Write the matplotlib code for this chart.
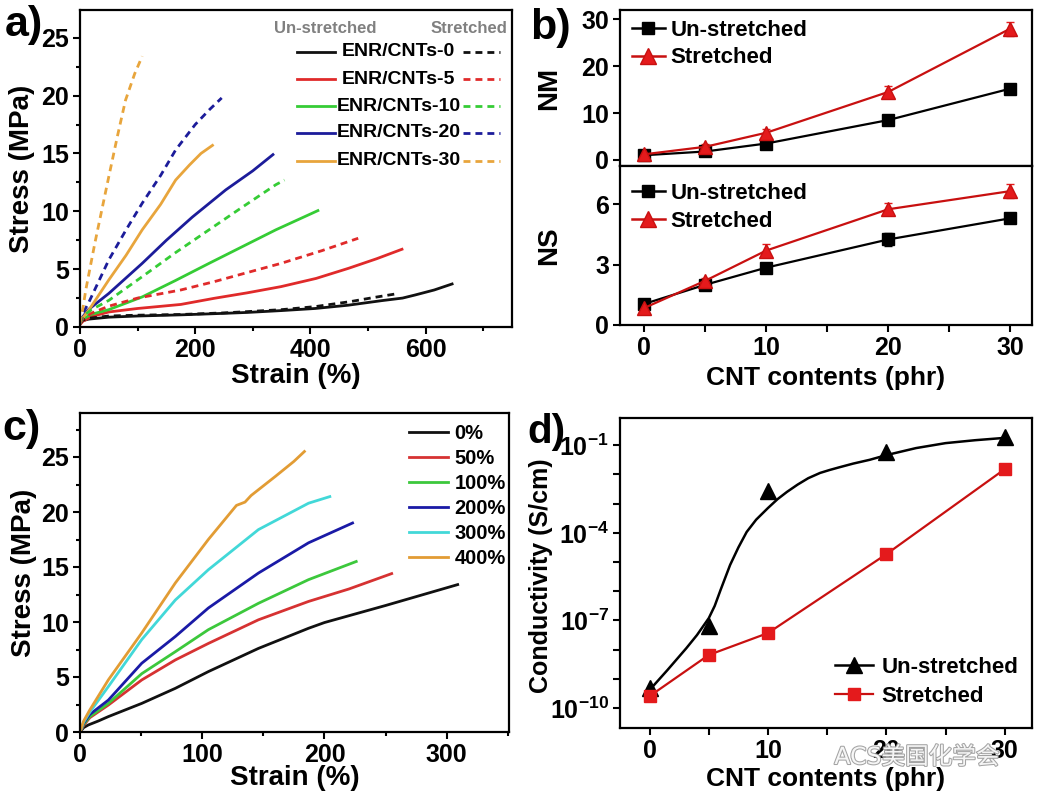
import numpy as np
import matplotlib
matplotlib.use("Agg")
import matplotlib.pyplot as plt
from matplotlib.ticker import MultipleLocator, FixedLocator, FuncFormatter, NullFormatter
from matplotlib.lines import Line2D
import matplotlib.patheffects as pe

# Style
# -----------------------------------------------------------------------------
plt.rcParams["font.family"] = ["Liberation Sans", "DejaVu Sans"]
plt.rcParams["font.weight"] = "bold"
plt.rcParams["axes.labelweight"] = "bold"
plt.rcParams["axes.linewidth"] = 1.6
plt.rcParams["mathtext.fontset"] = "custom"
plt.rcParams["mathtext.rm"] = "Liberation Sans:bold"
plt.rcParams["mathtext.bf"] = "Liberation Sans:bold"

TICK = 18
LABEL = 20

# Data
# -----------------------------------------------------------------------------
# a) stress-strain, un-stretched (solid) and stretched (dashed)
a_names = ["ENR/CNTs-0", "ENR/CNTs-5", "ENR/CNTs-10", "ENR/CNTs-20", "ENR/CNTs-30"]
a_colors = ["#111111", "#e02a2a", "#35cc35", "#1c1c9a", "#e8a53c"]

a0_un_x = [0, 5, 15, 50, 100, 175, 250, 291, 350, 408, 465, 524, 560, 582, 615, 646]
a0_un_y = [0.3, 0.55, 0.68, 0.85, 0.95, 1.05, 1.18, 1.26, 1.42, 1.6, 1.88, 2.28, 2.5, 2.77, 3.2, 3.72]
a0_st_x = [0, 5, 15, 50, 100, 175, 250, 291, 350, 408, 470, 510, 547]
a0_st_y = [0.3, 0.6, 0.75, 0.95, 1.02, 1.08, 1.22, 1.33, 1.5, 1.76, 2.2, 2.55, 2.85]
a5_un_x = [0, 5, 20, 50, 100, 175, 233, 290, 349, 410, 466, 515, 559]
a5_un_y = [0.2, 0.5, 0.9, 1.3, 1.6, 1.95, 2.48, 2.95, 3.49, 4.2, 5.07, 5.9, 6.72]
a5_st_x = [0, 5, 20, 50, 100, 175, 233, 290, 349, 420, 483]
a5_st_y = [0.3, 0.7, 1.2, 1.8, 2.5, 3.2, 3.92, 4.7, 5.5, 6.6, 7.67]
a10_un_x = [0, 5, 20, 50, 108, 165, 224, 280, 340, 413]
a10_un_y = [0.3, 0.7, 1.1, 1.5, 2.6, 4.0, 5.5, 6.9, 8.4, 10.06]
a10_st_x = [0, 5, 20, 50, 108, 165, 224, 280, 340, 355]
a10_st_y = [0.3, 0.9, 1.5, 2.3, 4.35, 6.4, 8.4, 10.3, 12.3, 12.7]
a20_un_x = [0, 5, 14.5, 50, 108, 150, 195, 253, 300, 335]
a20_un_y = [0.3, 0.9, 1.5, 2.9, 5.5, 7.5, 9.5, 11.85, 13.5, 14.9]
a20_st_x = [0, 5, 14.5, 50, 80, 108, 140, 166, 200, 225, 246]
a20_st_y = [0.3, 1.2, 2.05, 5.8, 8.4, 10.7, 13.1, 15.3, 17.5, 18.8, 19.8]
a30_un_x = [0, 5, 14.5, 50, 80, 108, 140, 166, 190, 210, 230]
a30_un_y = [0.3, 0.8, 1.4, 4.07, 6.2, 8.4, 10.6, 12.7, 14.0, 15.0, 15.7]
a30_st_x = [0, 5, 10, 26, 50, 65, 79, 95, 108]
a30_st_y = [0.3, 1.6, 3.2, 7.3, 13.0, 16.5, 19.6, 21.9, 23.4]

a_un = [(a0_un_x, a0_un_y), (a5_un_x, a5_un_y), (a10_un_x, a10_un_y),
        (a20_un_x, a20_un_y), (a30_un_x, a30_un_y)]
a_st = [(a0_st_x, a0_st_y), (a5_st_x, a5_st_y), (a10_st_x, a10_st_y),
        (a20_st_x, a20_st_y), (a30_st_x, a30_st_y)]

# b) NM and NS vs CNT content
cnt = [0, 5, 10, 20, 30]
nm_un = [1.0, 1.8, 3.5, 8.5, 15.2]
nm_un_err = [0.3, 0.3, 0.4, 0.5, 0.5]
nm_st = [1.2, 2.8, 5.8, 14.5, 28.0]
nm_st_err = [0.5, 0.5, 0.8, 1.2, 1.5]
ns_un = [1.05, 2.0, 2.85, 4.25, 5.3]
ns_un_err = [0.1, 0.1, 0.1, 0.3, 0.15]
ns_st = [0.85, 2.2, 3.7, 5.75, 6.65]
ns_st_err = [0.25, 0.15, 0.3, 0.3, 0.35]

# c) stress-strain of ENR/CNTs after pre-stretching
c_names = ["0%", "50%", "100%", "200%", "300%", "400%"]
c_colors = ["#111111", "#d63232", "#3cc83c", "#1a1aa6", "#42d8d8", "#e29c34"]
c0_x = [0, 3, 6.8, 15, 23.2, 50.5, 78, 105, 146, 187, 200, 250, 309]
c0_y = [0, 0.4, 0.64, 1.0, 1.4, 2.6, 3.97, 5.49, 7.6, 9.43, 9.95, 11.5, 13.4]
c50_x = [0, 3, 8, 23.2, 50.5, 78, 105, 146, 187, 220, 255]
c50_y = [0, 0.6, 1.3, 2.45, 4.73, 6.55, 8.05, 10.2, 11.87, 13.0, 14.4]
c100_x = [0, 3, 8, 23.2, 50.5, 78, 105, 146, 187, 226]
c100_y = [0, 0.7, 1.4, 2.6, 5.3, 7.3, 9.3, 11.7, 13.85, 15.5]
c200_x = [0, 3, 8, 23.2, 50.5, 78, 105, 146, 187, 205, 223]
c200_y = [0, 0.8, 1.6, 2.9, 6.25, 8.68, 11.27, 14.45, 17.2, 18.1, 19.0]
c300_x = [0, 3, 8, 23.2, 50.5, 78, 105, 146, 187, 204.4]
c300_y = [0, 0.9, 1.8, 4.13, 8.4, 12.0, 14.75, 18.4, 20.8, 21.4]
c400_x = [0, 3, 8, 23.2, 50.5, 78, 105, 128, 135, 140, 160, 175, 183.6]
c400_y = [0, 1.0, 2.0, 4.74, 9.0, 13.55, 17.5, 20.6, 20.9, 21.5, 23.25, 24.6, 25.5]
c_curves = [(c0_x, c0_y), (c50_x, c50_y), (c100_x, c100_y),
            (c200_x, c200_y), (c300_x, c300_y), (c400_x, c400_y)]

# d) conductivity (log10 S/cm)
cond_un_log = [-9.32, -7.19, -2.57, -1.23, -0.72]
cond_st_log = [-9.59, -8.18, -7.43, -4.73, -1.82]
fit_x = [0, 1.5, 3.1, 4, 5, 5.5, 6, 6.8, 7.5, 8.2, 9, 10, 10.8, 11.6, 12.5, 13.4, 14.4,
         15.2, 16, 17.2, 18.6, 20, 22.5, 25, 27.5, 30]
fit_log = [-9.38, -8.7, -7.95, -7.5, -6.92, -6.5, -5.95, -5.1, -4.5, -3.97, -3.55, -3.15,
           -2.85, -2.6, -2.35, -2.13, -1.95, -1.85, -1.76, -1.63, -1.5, -1.34, -1.1,
           -0.93, -0.83, -0.75]


# Figure
# -----------------------------------------------------------------------------
W, H = 1040, 802
fig = plt.figure(figsize=(W / 100, H / 100), dpi=100)


def px_axes(left, top, right, bottom):
    return fig.add_axes([left / W, 1 - bottom / H, (right - left) / W, (bottom - top) / H])


def style(ax):
    ax.tick_params(which="both", direction="out", width=1.5, labelsize=TICK, pad=3)
    ax.tick_params(which="major", length=5)
    ax.tick_params(which="minor", length=3)
    for lab in ax.get_xticklabels() + ax.get_yticklabels():
        lab.set_fontweight("bold")


# a) -------------------------------------------------------------------------
ax = px_axes(80, 10, 512, 327)
for (x, y), col in zip(a_un, a_colors):
    ax.plot(x, y, color=col, lw=2.0)
for (x, y), col in zip(a_st, a_colors):
    ax.plot(x, y, color=col, lw=2.0, ls=(0, (2.5, 1.8)))
ax.set_xlim(0, 750)
ax.set_ylim(0, 27.4)
ax.xaxis.set_major_locator(FixedLocator([0, 200, 400, 600]))
ax.xaxis.set_minor_locator(MultipleLocator(100))
ax.yaxis.set_major_locator(MultipleLocator(5))
ax.yaxis.set_minor_locator(MultipleLocator(2.5))
ax.set_xlabel("Strain (%)", fontsize=LABEL)
ax.set_ylabel("Stress (MPa)", fontsize=LABEL)
ax.xaxis.set_label_coords(0.5, -0.115)
ax.yaxis.set_label_coords(-0.104, 0.5)
style(ax)

# custom two-column legend
ax.text(0.567, 0.943, "Un-stretched", transform=ax.transAxes, ha="center", va="center",
        fontsize=12, color="#808080", fontweight="bold")
ax.text(0.900, 0.943, "Stretched", transform=ax.transAxes, ha="center", va="center",
        fontsize=12, color="#808080", fontweight="bold")
rows = [0.868, 0.782, 0.697, 0.612, 0.524]
for name, col, yy in zip(a_names, a_colors, rows):
    ax.add_line(Line2D([0.502, 0.590], [yy, yy], transform=ax.transAxes, color=col, lw=2.0))
    ax.add_line(Line2D([0.887, 0.972], [yy, yy], transform=ax.transAxes, color=col, lw=2.0,
                       ls=(0, (2.5, 1.8))))
    ax.text(0.738, yy, name, transform=ax.transAxes, ha="center", va="center",
            fontsize=14, fontweight="bold")

# b) -------------------------------------------------------------------------
red = "#e41a1c"
dred = "#c81010"
axt = px_axes(620, 10, 1032, 166)
axb = px_axes(620, 166, 1032, 325)

for axi, un, une, st, ste, ylim, yt, top in [
        (axt, nm_un, nm_un_err, nm_st, nm_st_err, (-1.3, 32), [0, 10, 20, 30], 0.995),
        (axb, ns_un, ns_un_err, ns_st, ns_st_err, (0, 7.9), [0, 3, 6], 0.95)]:
    axi.errorbar(cnt, un, yerr=une, color="black", lw=1.6, marker="s", ms=8.5,
                 mfc="black", mec="black", capsize=3, elinewidth=1.2)
    axi.errorbar(cnt, st, yerr=ste, color=dred, lw=1.6, marker="^", ms=10,
                 mfc=red, mec=dred, ecolor=red, capsize=3, elinewidth=1.2)
    axi.set_xlim(-2, 31.8)
    axi.set_ylim(*ylim)
    axi.yaxis.set_major_locator(FixedLocator(yt))
    axi.xaxis.set_major_locator(FixedLocator([0, 10, 20, 30]))
    axi.xaxis.set_minor_locator(FixedLocator([5, 15, 25]))
    style(axi)
    axi.tick_params(which="minor", length=5)
    hs = [Line2D([], [], color="black", lw=1.8, marker="s", ms=9),
          Line2D([], [], color=dred, lw=1.8, marker="^", ms=11, mfc=red, mec=dred)]
    axi.legend(hs, ["Un-stretched", "Stretched"], loc="upper left",
               bbox_to_anchor=(0.007, top), frameon=False, borderaxespad=0, borderpad=0.4,
               handlelength=1.5, handletextpad=0.25, labelspacing=0.3,
               prop={"weight": "bold", "size": 16})

axt.xaxis.set_major_formatter(NullFormatter())
axt.set_ylabel("NM", fontsize=LABEL)
axb.set_ylabel("NS", fontsize=LABEL)
axb.set_xlabel("CNT contents (phr)", fontsize=19)
axt.yaxis.set_label_coords(-0.141, 0.5)
axb.yaxis.set_label_coords(-0.141, 0.5)
axb.xaxis.set_label_coords(0.5, -0.255)

# c) -------------------------------------------------------------------------
ax = px_axes(80, 413, 509, 732)
for (x, y), col, name in zip(c_curves, c_colors, c_names):
    ax.plot(x, y, color=col, lw=2.0, label=name)
ax.set_xlim(0, 351)
ax.set_ylim(0, 29)
ax.xaxis.set_major_locator(FixedLocator([0, 100, 200, 300]))
ax.xaxis.set_minor_locator(MultipleLocator(50))
ax.yaxis.set_major_locator(MultipleLocator(5))
ax.yaxis.set_minor_locator(MultipleLocator(2.5))
ax.set_xlabel("Strain (%)", fontsize=LABEL)
ax.set_ylabel("Stress (MPa)", fontsize=LABEL)
ax.xaxis.set_label_coords(0.5, -0.105)
ax.yaxis.set_label_coords(-0.1, 0.5)
style(ax)
ax.legend(loc="upper left", bbox_to_anchor=(0.748, 0.99), frameon=False, borderaxespad=0,
          handlelength=1.95, handletextpad=0.3, labelspacing=0.3,
          prop={"weight": "bold", "size": 14.5})

# d) -------------------------------------------------------------------------
ax = px_axes(620, 418, 1032, 728)
un_vals = [10.0 ** v for v in cond_un_log]
st_vals = [10.0 ** v for v in cond_st_log]
fit_vals = [10.0 ** v for v in fit_log]
ax.plot(fit_x, fit_vals, color="black", lw=1.8)
ax.plot(cnt, un_vals, ls="none", marker="^", ms=11, color="black")
ax.plot(cnt, st_vals, color=dred, lw=1.6, marker="s", ms=9, mfc=red, mec=red)
ax.set_yscale("log")
ax.set_xlim(-2.5, 32.3)
ax.set_ylim(10 ** -10.68, 10 ** -0.07)
ax.yaxis.set_major_locator(FixedLocator([10.0 ** k for k in range(-10, 0)]))
ax.yaxis.set_minor_locator(FixedLocator([]))
ax.yaxis.set_major_formatter(FuncFormatter(
    lambda v, p: r"$\mathbf{10^{%d}}$" % round(np.log10(v)) if round(np.log10(v)) % 3 == 2 else ""))
ax.xaxis.set_major_locator(FixedLocator([0, 10, 20, 30]))
ax.xaxis.set_minor_locator(FixedLocator([5, 15, 25]))
ax.set_xlabel("CNT contents (phr)", fontsize=19)
ax.set_ylabel("Conductivity (S/cm)", fontsize=18)
ax.xaxis.set_label_coords(0.5, -0.125)
ax.yaxis.set_label_coords(-0.163, 0.49)
style(ax)
ax.tick_params(which="minor", length=5)
h_un = Line2D([], [], color="black", lw=1.8, marker="^", ms=11)
h_st = Line2D([], [], color=dred, lw=1.6, marker="s", ms=9, mfc=red, mec=red)
ax.legend([h_un, h_st], ["Un-stretched", "Stretched"], loc="upper left",
          bbox_to_anchor=(0.5, 0.258), frameon=False, borderaxespad=0, handlelength=1.7,
          handletextpad=0.4, labelspacing=0.36, prop={"weight": "bold", "size": 16})

# watermark
fig.text(917 / W, 1 - 757 / H, "ACS美国化学会", ha="center", va="center", fontsize=17,
         family=["DejaVu Sans", "Noto Sans CJK SC"], fontweight="normal", color="white",
         alpha=0.9, zorder=5, path_effects=[pe.withStroke(linewidth=1.5, foreground="#999999")])

# panel letters
for lab, x, y, fs in [("a)", 24, 25, 31), ("b)", 550, 28, 31), ("c)", 22, 429, 31),
                      ("d)", 546, 432, 29)]:
    fig.text(x / W, 1 - y / H, lab, ha="center", va="center", fontsize=fs, fontweight="bold")

fig.savefig("out.png", dpi=100)
